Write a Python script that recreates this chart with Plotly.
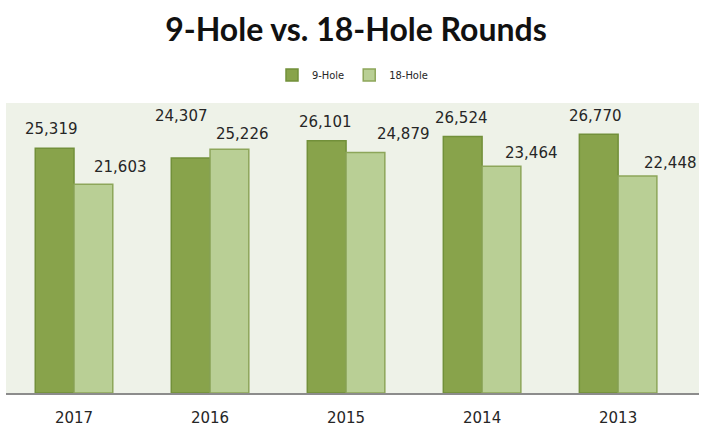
import plotly.graph_objects as go

# Rounds played per season
years = ["2017", "2016", "2015", "2014", "2013"]
nine_hole = [25319, 24307, 26101, 26524, 26770]
eighteen_hole = [21603, 25226, 24879, 23464, 22448]

# Label nudges (pixels) so neighbouring value labels do not collide
nine_dx = [-3, -9, -1, -1, -3]
nine_dy = [19, 42, 19, 19, 18]
eighteen_dx = [27, 13, 38, 30, 33]
eighteen_dy = [17, 15, 19, 13, 13]

NINE_FILL, NINE_LINE = "#88a34b", "#72903a"
EIGHT_FILL, EIGHT_LINE = "#b9cf95", "#8da65a"
TEXT = "#262626"
LABEL_FONT = dict(family="DejaVu Sans", size=15, color=TEXT)

fig = go.Figure()
fig.add_trace(go.Bar(
    name="9-Hole", x=years, y=nine_hole,
    marker=dict(color=NINE_FILL, line=dict(color=NINE_LINE, width=1.5)),
))
fig.add_trace(go.Bar(
    name="18-Hole", x=years, y=eighteen_hole,
    marker=dict(color=EIGHT_FILL, line=dict(color=EIGHT_LINE, width=1.5)),
))

bargap = 0.43
half = (1 - bargap) / 4  # offset from category centre to each bar centre

annotations = []
for i, (v, dx, dy) in enumerate(zip(nine_hole, nine_dx, nine_dy)):
    annotations.append(dict(
        x=i - half, y=v, xref="x", yref="y", text=f"{v:,}", showarrow=False,
        xshift=dx, yshift=dy, yanchor="middle", font=LABEL_FONT,
    ))
for i, (v, dx, dy) in enumerate(zip(eighteen_hole, eighteen_dx, eighteen_dy)):
    annotations.append(dict(
        x=i + half, y=v, xref="x", yref="y", text=f"{v:,}", showarrow=False,
        xshift=dx, yshift=dy, yanchor="middle", font=LABEL_FONT,
    ))

fig.update_layout(
    width=712, height=434,
    margin=dict(l=6, r=13, t=103, b=41),
    paper_bgcolor="white",
    plot_bgcolor="#eef2e8",
    barmode="group",
    bargap=bargap,
    bargroupgap=0,
    title=dict(
        text="<b>9-Hole vs. 18-Hole Rounds</b>",
        x=0.5, xanchor="center", y=1 - 30 / 434, yanchor="middle",
        yref="container",
        font=dict(family="Lato", size=32, color="#111111"),
    ),
    legend=dict(
        orientation="h", x=0.5, xanchor="center", y=1 + 28 / 290, yanchor="middle",
        font=dict(family="DejaVu Sans Condensed, DejaVu Sans", size=11, color=TEXT),
        itemwidth=30, traceorder="normal", bgcolor="rgba(0,0,0,0)",
    ),
    xaxis=dict(
        type="category", showgrid=False, showline=True, linecolor="#8c8c8c",
        linewidth=2, ticks="", tickfont=dict(family="DejaVu Sans", size=15, color=TEXT),
        ticklabelstandoff=10,
    ),
    yaxis=dict(range=[0, 30000], visible=False, showgrid=False),
    annotations=annotations,
    showlegend=True,
)

fig.write_html("out.html")
